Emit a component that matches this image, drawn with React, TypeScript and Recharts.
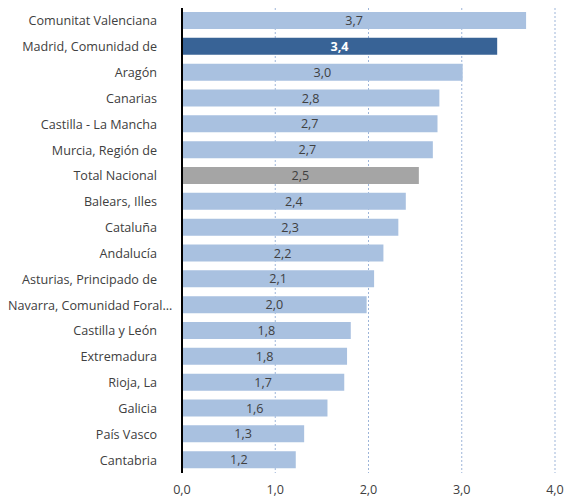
import React from "react";
import { BarChart, Bar, XAxis, YAxis, CartesianGrid, Cell, LabelList } from "recharts";

const categories = [
  "Comunitat Valenciana",
  "Madrid, Comunidad de",
  "Aragón",
  "Canarias",
  "Castilla - La Mancha",
  "Murcia, Región de",
  "Total Nacional",
  "Balears, Illes",
  "Cataluña",
  "Andalucía",
  "Asturias, Principado de",
  "Navarra, Comunidad Foral…",
  "Castilla y León",
  "Extremadura",
  "Rioja, La",
  "Galicia",
  "País Vasco",
  "Cantabria",
];

const values = [3.69, 3.38, 3.01, 2.76, 2.74, 2.69, 2.54, 2.4, 2.32, 2.16, 2.06, 1.98, 1.81, 1.77, 1.74, 1.56, 1.31, 1.22];

const xTicks = [0, 1, 2, 3, 4];

const highlightCategory = "Madrid, Comunidad de";
const totalCategory = "Total Nacional";

const data = categories.map((name, i) => ({ name, value: values[i] }));

const fmt = (v: number) => v.toFixed(1).replace(".", ",");

const FONT = "'Open Sans', 'Noto Sans', sans-serif";
const TEXT = "#404040";
const FS = 12.6;

const YTick = (props: any) => {
  const { x, y, payload } = props;
  const label: string = payload.value;
  const truncated = label.endsWith("…");
  return (
    <text
      x={truncated ? 8 : x - 17}
      y={y}
      dy={4.5}
      textAnchor={truncated ? "start" : "end"}
      fontFamily={FONT}
      fontSize={FS}
      fill={TEXT}
    >
      {label}
    </text>
  );
};

const renderLabel = (props: any) => {
  const { x, y, width, height, value, index } = props;
  const isHi = categories[index] === highlightCategory;
  return (
    <text
      x={x + width / 2}
      y={y + height / 2}
      dy={4.5}
      textAnchor="middle"
      fontFamily={FONT}
      fontSize={FS}
      fontWeight={isHi ? 700 : 400}
      fill={isHi ? "#FFFFFF" : TEXT}
    >
      {fmt(Number(value))}
    </text>
  );
};

export default function App() {
  return (
    <div style={{ position: "absolute", left: 0, top: 0, background: "#fff" }}>
      <BarChart
        width={565}
        height={499}
        data={data}
        layout="vertical"
        margin={{ top: 8, right: 10, bottom: 0, left: 0 }}
        barCategoryGap={9}
      >
        <CartesianGrid
          horizontal={false}
          vertical={true}
          stroke="#9DB5D9"
          strokeDasharray="2 2"
        />
        <XAxis
          type="number"
          domain={[0, 4]}
          ticks={xTicks}
          tickFormatter={fmt}
          axisLine={false}
          tickLine={false}
          height={26}
          tick={{ fontFamily: FONT, fontSize: FS, fill: TEXT }}
          tickMargin={6}
        />
        <YAxis
          type="category"
          dataKey="name"
          width={182}
          axisLine={{ stroke: "#000", strokeWidth: 2 }}
          tickLine={false}
          tick={<YTick />}
          interval={0}
        />
        <Bar dataKey="value" isAnimationActive={false} barSize={17}>
          {data.map((d) => (
            <Cell
              key={d.name}
              fill={
                d.name === highlightCategory
                  ? "#386396"
                  : d.name === totalCategory
                  ? "#A5A5A5"
                  : "#A9C1E0"
              }
            />
          ))}
          <LabelList dataKey="value" content={renderLabel} />
        </Bar>
      </BarChart>
    </div>
  );
}
